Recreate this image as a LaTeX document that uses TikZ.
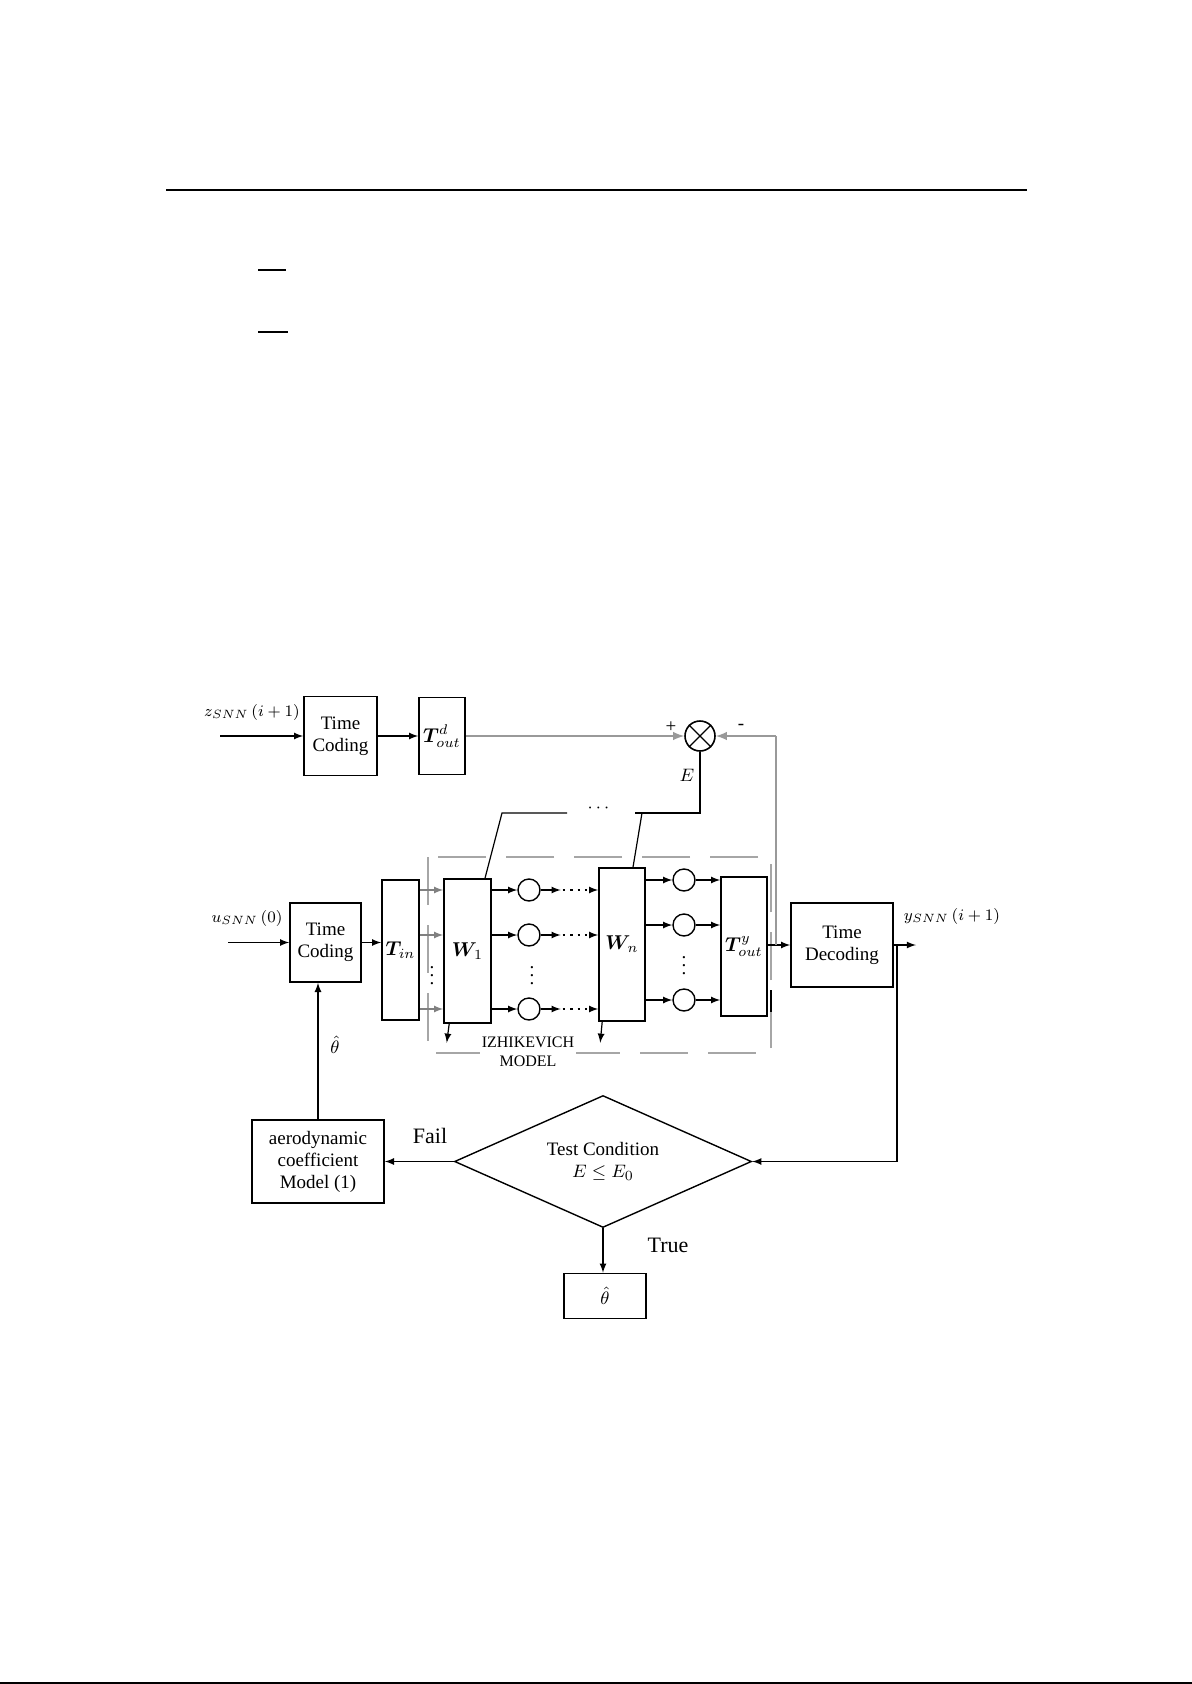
\documentclass[tikz,border=0pt]{standalone}
\usepackage{amsmath,amssymb}
\usepackage[no-math]{fontspec}
\setmainfont{Liberation Serif}
\usepackage{tikz}
\usetikzlibrary{arrows,shapes.geometric}

\begin{document}
\begin{tikzpicture}[x=0.5pt,y=-0.5pt,>=latex,line width=0.6pt,
	font=\fontsize{9.5}{11}\selectfont,
	blockbox/.style={draw,line width=0.8pt,inner sep=0pt,align=center},
	neuron/.style={draw,circle,line width=0.7pt,minimum size=11pt,inner sep=0pt},
	boldlbl/.style={font=\fontsize{10}{12}\selectfont},
	sig/.style={font=\fontsize{8}{10}\selectfont,inner sep=1pt},
	thin/.style={gray!80,line width=0.9pt}]
\fill[white] (0,0) rectangle (1192,1684);
\useasboundingbox (0,0) rectangle (1192,1684);
% page rules
\draw[line width=0.7pt] (166,190) -- (1027,190);
\draw[line width=1.2pt] (258,270) -- (286,270);
\draw[line width=0.75pt] (258,332) -- (288,332);
\draw[line width=0.8pt] (0,1683) -- (1192,1683);

% reference path
\coordinate (zin) at (220,736);
\node[sig] (zlbl) at (252,712) {$z_{SNN}\,(i+1)$};
\node[blockbox,minimum width=36.5pt,minimum height=39.5pt] (tc1) at (340.5,736) {Time\\Coding};
\node[blockbox,boldlbl,minimum width=23pt,minimum height=38.5pt] (toutd) at (442,736) {$\boldsymbol{T}^{d}_{\!out}$};
\node[draw,circle,minimum size=15pt,inner sep=0pt,line width=0.8pt] (sum) at (700,736) {};
\draw (sum.north west) -- (sum.south east) (sum.north east) -- (sum.south west);
\node (plus) at (671,727) {+};
\node (minus) at (741,727) {-};
\coordinate (fb) at (776,736);
\path[->]
(zin) edge (tc1.west)
(tc1.east) edge (toutd.west)
;
\draw[->,thin] (toutd.east) -- (sum.west);
\draw[->,thin] (fb) -- (sum.east);

% network
\coordinate (uin) at (228,942.5);
\node[sig] (ulbl) at (247,918) {$u_{SNN}\,(0)$};
\node[blockbox,minimum width=35.5pt,minimum height=39.5pt] (tc2) at (325.5,942.5) {Time\\Coding};
\node[blockbox,boldlbl,minimum width=18.5pt,minimum height=70pt] (tin) at (400.5,950) {$\boldsymbol{T}_{\!in}$};
\node[blockbox,boldlbl,minimum width=23.5pt,minimum height=72pt] (w1) at (467.5,951) {$\boldsymbol{W}_{\!1}$};
\node[blockbox,boldlbl,minimum width=23pt,minimum height=76.5pt] (wn) at (622,944.5) {$\boldsymbol{W}_{\!n}$};
\node[blockbox,boldlbl,minimum width=23pt,minimum height=69.5pt] (touty) at (744,946.5) {$\boldsymbol{T}^{y}_{\!out}$};
\node[blockbox,minimum width=51pt,minimum height=42pt] (tdec) at (842,945) {Time\\Decoding};
\node[neuron] (a1) at (529,890) {};
\node[neuron] (a2) at (529,935) {};
\node[neuron] (a3) at (529,1009) {};
\node[neuron] (b1) at (684,880) {};
\node[neuron] (b2) at (684,925) {};
\node[neuron] (b3) at (684,1000) {};
\node[inner sep=0pt] (vd0) at (432,970) {$\vdots$};
\node[inner sep=0pt] (vd1) at (532,970) {$\vdots$};
\node[inner sep=0pt] (vd2) at (684,960) {$\vdots$};
\draw[gray!70,line width=0.7pt,dash pattern=on 24pt off 10pt] (428,857) rectangle (771,1053);
\node[font=\fontsize{8}{9.5}\selectfont,align=center,fill=white,inner sep=1pt] (izh) at (528,1052) {IZHIKEVICH\\MODEL};
\path[->]
(uin) edge (tc2.west)
(tc2.east) edge (tc2.east -| tin.west)
(w1.east |- a1) edge (a1)
(w1.east |- a2) edge (a2)
(w1.east |- a3) edge (a3)
(a1) edge ([xshift=10pt]a1.east)
(a2) edge ([xshift=10pt]a2.east)
(a3) edge ([xshift=10pt]a3.east)
(wn.east |- b1) edge (b1)
(wn.east |- b2) edge (b2)
(wn.east |- b3) edge (b3)
(b1) edge (touty.west |- b1)
(b2) edge (touty.west |- b2)
(b3) edge (touty.west |- b3)
(touty.east |- tdec.west) edge (tdec.west)
;
\path[->,gray]
(tin.east |- a1) edge (w1.west |- a1)
(tin.east |- a2) edge (w1.west |- a2)
(tin.east |- a3) edge (w1.west |- a3)
;
\path[->,dash pattern=on 1.2pt off 2.5pt]
([xshift=11pt]a1.east) edge (wn.west |- a1)
([xshift=11pt]a2.east) edge (wn.west |- a2)
([xshift=11pt]a3.east) edge (wn.west |- a3)
;
\draw[->] ([xshift=3pt]w1.south west) -- ++(-2.5,19);
\draw[->] ([xshift=2pt]wn.south west) -- ++(-2,21);
\draw[line width=0.8pt] (771,990) -- (771,1012);
\draw[thin] (fb) -- (fb |- tdec.west);

% error signal
\coordinate (e1) at (502,813);
\coordinate (e2) at (567,813);
\coordinate (e3) at (635,813);
\coordinate (e4) at (642,813);
\node (edots) at (600,808) {$\cdots$};
\node (elbl) at (687,775) {$E$};
\draw ([xshift=8.75pt]w1.north) -- (e1) -- (e2);
\draw ([xshift=5.5pt]wn.north) -- (e4);
\draw (e3) -- (sum |- e3) -- (sum.south);

% output
\coordinate (yout) at (916,945);
\coordinate (yturn) at (897,945);
\node[sig] (ylbl) at (952,916) {$y_{SNN}\,(i+1)$};
\draw[->] (tdec.east) -- (yout);

% test
\node[blockbox,minimum width=66pt,minimum height=41.5pt] (aero) at (318,1161.5) {aerodynamic\\coefficient\\Model (1)};
\node[draw,diamond,aspect=2.25,minimum width=148.5pt,minimum height=66pt,inner sep=0pt,line width=0.7pt,align=center] (cond) at (603,1161.5) {Test Condition\\$E\le E_0$};
\node[blockbox,minimum width=41pt,minimum height=22.5pt] (thhat) at (605,1296) {$\hat{\theta}$};
\node[font=\fontsize{11}{13}\selectfont] (fail) at (430,1136) {Fail};
\node[font=\fontsize{11}{13}\selectfont] (true) at (668,1245) {True};
\node (thlbl) at (335,1045) {$\hat{\theta}$};
\path[->]
(cond.west) edge (aero.east)
(cond.south) edge (cond.south |- thhat.north)
(aero.north) edge (aero.north |- tc2.south)
;
\draw[->] (yturn) |- (cond.east);
\end{tikzpicture}
\end{document}
